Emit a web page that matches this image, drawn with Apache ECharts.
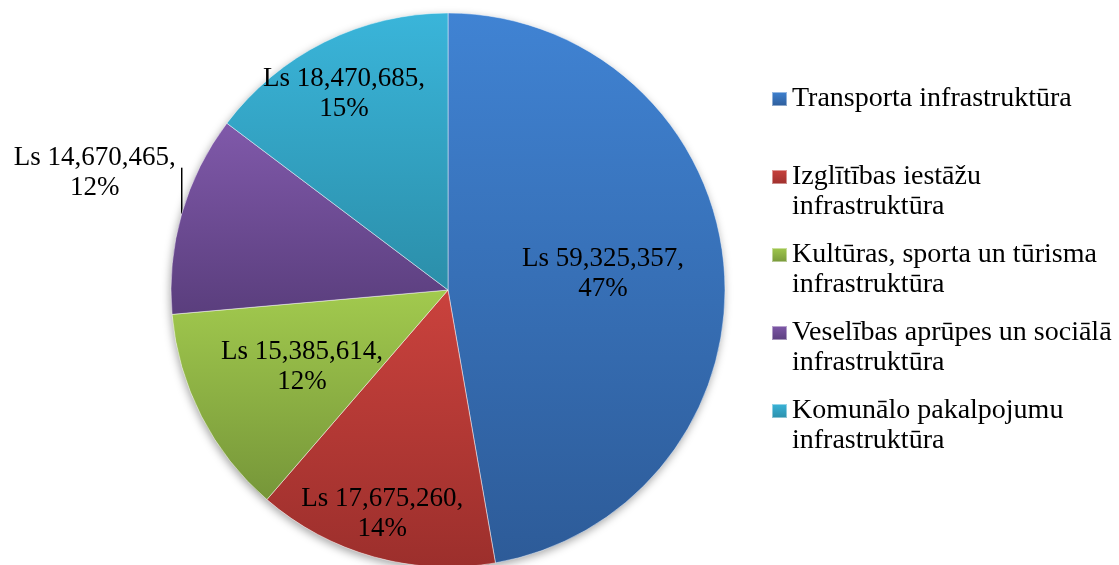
<!DOCTYPE html>
<html>
<head>
<meta charset="utf-8">
<script src="https://cdn.jsdelivr.net/npm/echarts@6/dist/echarts.min.js"></script>
<style>
  html, body { margin: 0; padding: 0; background: #ffffff; }
  #chart { width: 1119px; height: 565px; }
</style>
</head>
<body>
<div id="chart"></div>
<script>
// Infrastructure investment by sector (Ls)
const categories = [
  'Transporta infrastruktūra',
  'Izglītības iestāžu infrastruktūra',
  'Kultūras, sporta un tūrisma infrastruktūra',
  'Veselības aprūpes un sociālā infrastruktūra',
  'Komunālo pakalpojumu infrastruktūra'
];
const amounts = [59325357, 17675260, 15385614, 14670465, 18470685];

// Slice shading: lighter at the top, darker at the bottom
const topColors = ['#4083D3', '#CA423D', '#A2CA4E', '#8059AA', '#3AB5DA'];
const bottomColors = ['#2D5B98', '#9C2F2C', '#769639', '#5A3E7D', '#2B8EA9'];

// Nudges of the in-slice labels away from the default mid-radius spot
const labelShift = [[14, -4], [-28, 88], [-20, 12], null, [-41, -69]];

const FONT = '"Liberation Serif", "Times New Roman", serif';
const CENTER = [448, 290];
const RADIUS = 277;

const total = amounts.reduce((a, b) => a + b, 0);

function shade(i) {
  return new echarts.graphic.LinearGradient(0, 0, 0, 1, [
    { offset: 0, color: topColors[i] },
    { offset: 1, color: bottomColors[i] }
  ]);
}

const pieData = categories.map((name, i) => ({
  name: name,
  value: amounts[i],
  itemStyle: { color: shade(i) },
  label: i === 3 ? { position: 'outside' } : { position: 'inside' },
  labelLine: { show: i === 3 }
}));

function legendText(name) {
  // first line sits level with the swatch; every entry spans two lines
  if (name === categories[0]) return '\n' + name + '\n ';
  return '\n' + name.replace(' infrastruktūra', '\ninfrastruktūra');
}

const chart = echarts.init(document.getElementById('chart'), null, { renderer: 'canvas' });

chart.setOption({
  animation: false,
  backgroundColor: '#ffffff',
  legend: {
    orient: 'vertical',
    left: 771,
    top: 54,
    padding: 0,
    itemGap: -12,
    itemWidth: 15,
    itemHeight: 14,
    icon: 'rect',
    selectedMode: false,
    data: categories,
    formatter: legendText,
    textStyle: {
      fontFamily: FONT,
      fontSize: 28,
      lineHeight: 30,
      color: '#000000'
    }
  },
  series: [
    {
      // soft drop shadow under the whole disc
      type: 'pie',
      silent: true,
      z: 1,
      center: CENTER,
      radius: RADIUS,
      label: { show: false },
      labelLine: { show: false },
      itemStyle: {
        color: '#ffffff',
        shadowBlur: 8,
        shadowOffsetX: -1,
        shadowOffsetY: 3,
        shadowColor: 'rgba(0,0,0,0.35)'
      },
      data: [{ value: total, name: ' ' }]
    },
    {
      type: 'pie',
      z: 2,
      center: CENTER,
      radius: RADIUS,
      startAngle: 90,
      clockwise: true,
      avoidLabelOverlap: false,
      itemStyle: {
        borderColor: 'rgba(255,255,255,0.45)',
        borderWidth: 1
      },
      label: {
        show: true,
        fontFamily: FONT,
        fontSize: 27,
        lineHeight: 30,
        color: '#000000',
        align: 'center',
        formatter: function (p) {
          return 'Ls ' + p.value.toLocaleString('en-US') + ',\n' + Math.round(p.percent) + '%';
        }
      },
      labelLine: {
        lineStyle: { color: '#000000', width: 1.5 }
      },
      labelLayout: function (params) {
        const i = params.dataIndex;
        if (i === 3 && params.labelLinePoints) {
          const p0 = params.labelLinePoints[0];
          const top = [p0[0], p0[1] - 46];
          return {
            x: p0[0] - 6 - params.labelRect.width / 2,
            y: p0[1] - 41,
            align: 'center',
            verticalAlign: 'middle',
            labelLinePoints: [p0, top, top]
          };
        }
        const s = labelShift[i];
        return s ? { dx: s[0], dy: s[1] } : {};
      },
      data: pieData
    }
  ]
});
</script>
</body>
</html>
